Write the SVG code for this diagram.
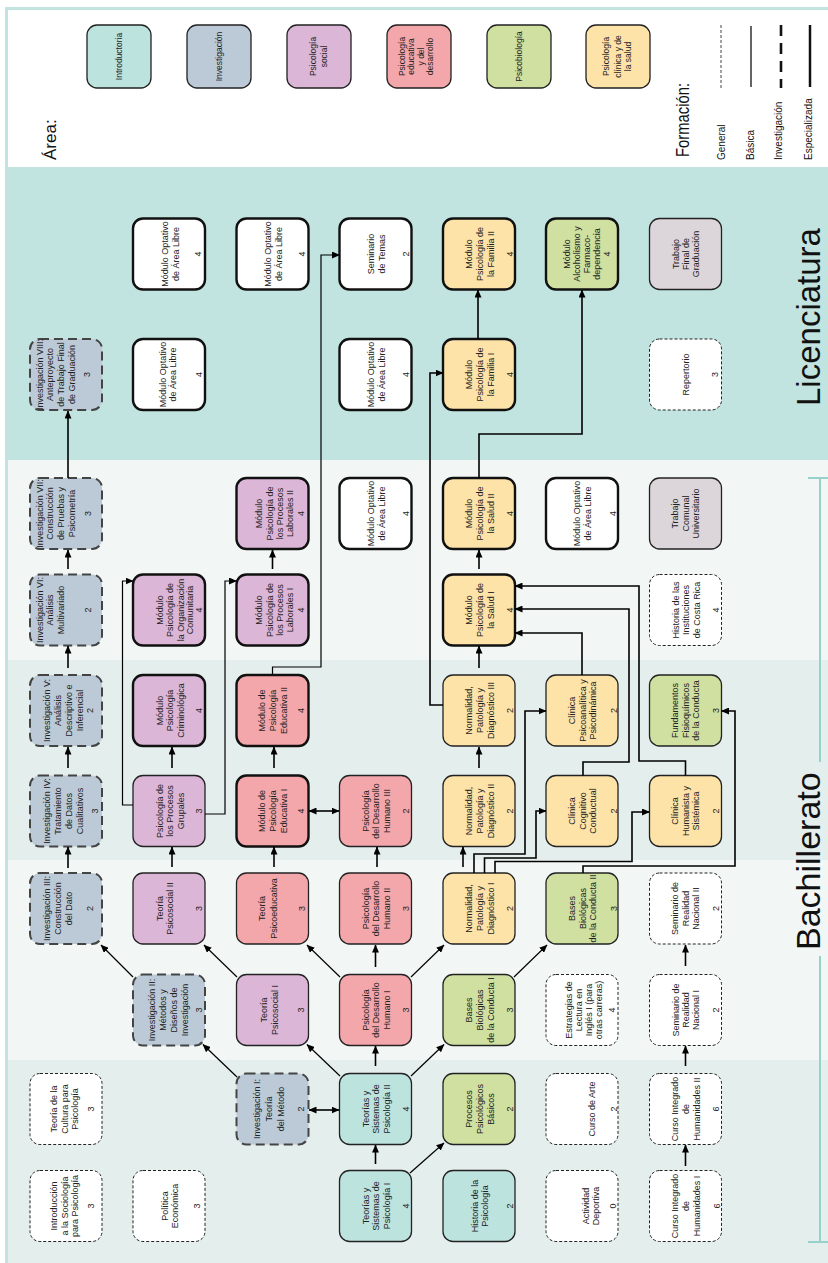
<svg xmlns="http://www.w3.org/2000/svg" width="828" height="1263" viewBox="0 0 828 1263">
<defs>
<marker id="ah" viewBox="0 0 8 7" refX="7.5" refY="3.5" markerWidth="8" markerHeight="7" markerUnits="userSpaceOnUse" orient="auto-start-reverse"><path d="M0,0 L8,3.5 L0,7 z" fill="#000"/></marker>
<style>
.t{font-family:"Liberation Sans",Arial,sans-serif;font-size:9px;fill:#222;text-anchor:middle}
.lt{font-family:"Liberation Sans",Arial,sans-serif;font-size:8.5px;fill:#222;text-anchor:middle}
.lab{font-family:"Liberation Sans",Arial,sans-serif;fill:#111}
.box{stroke:#222;stroke-width:1.3}
.gen{stroke:#222;stroke-width:1;stroke-dasharray:3 2;fill:#fff}
.inv{stroke:#444;stroke-width:2;stroke-dasharray:9 5;fill:#bccad8}
.esp{stroke:#111;stroke-width:2.4}
.fi{fill:#bde3df}.fs{fill:#dbb6d7}.fe{fill:#f4a7ab}.fb{fill:#cfe0a0}.fc{fill:#fde3a8}.fg{fill:#dcd5da}.fw{fill:#fff}
.c{fill:none;stroke:#000;stroke-width:1.6}
.cd{fill:none;stroke:#000;stroke-width:1.2}
</style>
</defs>
<g id="background">
<rect x="0" y="0" width="828" height="1263" fill="#fff"/>
<rect x="8" y="10" width="820" height="157" fill="#fff"/>
<rect x="8" y="167" width="820" height="293" fill="#c1e4e0"/>
<rect x="8" y="460" width="820" height="200" fill="#f2f7f6"/>
<rect x="8" y="660" width="820" height="200" fill="#e4eeec"/>
<rect x="8" y="860" width="820" height="200" fill="#f2f7f6"/>
<rect x="8" y="1060" width="820" height="203" fill="#e4eeec"/>
<rect x="5" y="7" width="823" height="3" fill="#c1e4e0"/>
<rect x="5" y="7" width="3" height="1256" fill="#c1e4e0"/>
<path d="M820,478 V762 M820,956 V1242 M808,478 H828 M808,1242 H828" fill="none" stroke="#96d1ca" stroke-width="2"/>
<text class="lab" font-size="33" transform="translate(820,406) rotate(-90)">Licenciatura</text>
<text class="lab" font-size="34" transform="translate(820,950) rotate(-90)">Bachillerato</text>
</g>
<g id="legend">
<text class="lab" font-size="17" transform="translate(50,160) rotate(-90)" y="6">Área:</text>
<g id="leg-intro"><rect x="87" y="25" width="64" height="63" rx="10" class="box fi"/><text class="lt" transform="translate(119,56.5) rotate(-90)"><tspan x="0" y="3">Introductoria</tspan></text></g>
<g id="leg-inv"><rect x="187" y="25" width="64" height="63" rx="10" class="box" fill="#bccad8"/><text class="lt" transform="translate(219,56.5) rotate(-90)"><tspan x="0" y="3">Investigación</tspan></text></g>
<g id="leg-soc"><rect x="287" y="25" width="64" height="63" rx="10" class="box fs"/><text class="lt" transform="translate(319,56.5) rotate(-90)"><tspan x="0" y="-3.3">Psicología</tspan><tspan x="0" y="7.7">social</tspan></text></g>
<g id="leg-edu"><rect x="387" y="25" width="64" height="63" rx="10" class="box fe"/><text class="lt" transform="translate(419,56.5) rotate(-90)"><tspan x="0" y="-14">Psicología</tspan><tspan x="0" y="-5">educativa</tspan><tspan x="0" y="5">y del</tspan><tspan x="0" y="14">desarrollo</tspan></text></g>
<g id="leg-bio"><rect x="487" y="25" width="64" height="63" rx="10" class="box fb"/><text class="lt" transform="translate(519,56.5) rotate(-90)"><tspan x="0" y="3">Psicobiología</tspan></text></g>
<g id="leg-clin"><rect x="586" y="25" width="64" height="63" rx="10" class="box fc"/><text class="lt" transform="translate(618,56.5) rotate(-90)"><tspan x="0" y="-8.7">Psicología</tspan><tspan x="0" y="2.7">clínica y de</tspan><tspan x="0" y="13">la salud</tspan></text></g>
<text class="lab" font-size="19" textLength="74" lengthAdjust="spacingAndGlyphs" transform="translate(682,157) rotate(-90)" y="7">Formación:</text>
<text class="lab" font-size="10" transform="translate(721,160) rotate(-90)" y="3.5">General</text>
<text class="lab" font-size="10" transform="translate(750,160) rotate(-90)" y="3.5">Básica</text>
<text class="lab" font-size="10" transform="translate(778,160) rotate(-90)" y="3.5">Investigación</text>
<text class="lab" font-size="10" transform="translate(808,160) rotate(-90)" y="3.5">Especializada</text>
<path d="M721,25 V88" stroke="#444" stroke-width="1" stroke-dasharray="3 2"/>
<path d="M751,26 V87" stroke="#111" stroke-width="1.3"/>
<path d="M781,25 V88" stroke="#111" stroke-width="2.6" stroke-dasharray="11 7"/>
<path d="M810,25 V87" stroke="#111" stroke-width="2.5"/>
</g>
<g id="nodes">
<g id="n01"><rect x="30" y="1170.5" width="72" height="71" rx="10" class="gen"/><text class="t" transform="translate(66,1206) rotate(-90)"><tspan x="0" y="-9.5">Introducción</tspan><tspan x="0" y="1.5">a la Sociología</tspan><tspan x="0" y="12.2">para Psicología</tspan><tspan x="0" y="27.9">3</tspan></text></g>
<g id="n02"><rect x="133" y="1170.5" width="72" height="71" rx="10" class="gen"/><text class="t" transform="translate(169,1206) rotate(-90)"><tspan x="0" y="-1.3">Política</tspan><tspan x="0" y="8.7">Económica</tspan><tspan x="0" y="31.2">3</tspan></text></g>
<g id="n03"><rect x="339.5" y="1170.5" width="72" height="71" rx="10" class="box fi"/><text class="t" transform="translate(375.5,1206) rotate(-90)"><tspan x="0" y="-7">Teorías y</tspan><tspan x="0" y="3.7">Sistemas de</tspan><tspan x="0" y="14.7">Psicología I</tspan><tspan x="0" y="33">4</tspan></text></g>
<g id="n04"><rect x="443" y="1170.5" width="72" height="71" rx="10" class="box fi"/><text class="t" transform="translate(479,1206) rotate(-90)"><tspan x="0" y="-1.5">Historia de la</tspan><tspan x="0" y="8.5">Psicología</tspan><tspan x="0" y="33.5">2</tspan></text></g>
<g id="n05"><rect x="546" y="1170.5" width="72" height="71" rx="10" class="gen"/><text class="t" transform="translate(582,1206) rotate(-90)"><tspan x="0" y="6.5">Actividad</tspan><tspan x="0" y="16.5">Deportiva</tspan><tspan x="0" y="34.2">0</tspan></text></g>
<g id="n06"><rect x="649.5" y="1170.5" width="72" height="71" rx="10" class="gen"/><text class="t" transform="translate(685.5,1206) rotate(-90)"><tspan x="0" y="-7.6">Curso Integrado</tspan><tspan x="0" y="3.7">de</tspan><tspan x="0" y="14.7">Humanidades I</tspan><tspan x="0" y="34.7">6</tspan></text></g>
<g id="n07"><rect x="30" y="1073.5" width="72" height="71" rx="10" class="gen"/><text class="t" transform="translate(66,1109) rotate(-90)"><tspan x="0" y="-9.5">Teoría de la</tspan><tspan x="0" y="1.5">Cultura para</tspan><tspan x="0" y="12.2">Psicología</tspan><tspan x="0" y="27.9">3</tspan></text></g>
<g id="n08"><rect x="236.5" y="1073.5" width="72" height="71" rx="10" class="inv"/><text class="t" transform="translate(272.5,1109) rotate(-90)"><tspan x="0" y="-12.3">Investigación I:</tspan><tspan x="0" y="-0.6">Teoría</tspan><tspan x="0" y="11.2">del Método</tspan><tspan x="0" y="31.7">2</tspan></text></g>
<g id="n09"><rect x="339.5" y="1073.5" width="72" height="71" rx="10" class="box fi"/><text class="t" transform="translate(375.5,1109) rotate(-90)"><tspan x="0" y="-7">Teorías y</tspan><tspan x="0" y="3.7">Sistemas de</tspan><tspan x="0" y="14.7">Psicología II</tspan><tspan x="0" y="33">4</tspan></text></g>
<g id="n10"><rect x="443" y="1073.5" width="72" height="71" rx="10" class="box fb"/><text class="t" transform="translate(479,1109) rotate(-90)"><tspan x="0" y="-7.1">Procesos</tspan><tspan x="0" y="4.2">Psicológicos</tspan><tspan x="0" y="15.2">Básicos</tspan><tspan x="0" y="33.5">2</tspan></text></g>
<g id="n11"><rect x="546" y="1073.5" width="72" height="71" rx="10" class="gen"/><text class="t" transform="translate(582,1109) rotate(-90)"><tspan x="0" y="13.2">Curso de Arte</tspan><tspan x="0" y="34.9">2</tspan></text></g>
<g id="n12"><rect x="649.5" y="1073.5" width="72" height="71" rx="10" class="gen"/><text class="t" transform="translate(685.5,1109) rotate(-90)"><tspan x="0" y="-7.6">Curso Integrado</tspan><tspan x="0" y="3.7">de</tspan><tspan x="0" y="14.7">Humanidades II</tspan><tspan x="0" y="33.7">6</tspan></text></g>
<g id="n13"><rect x="133" y="974.5" width="72" height="71" rx="10" class="inv"/><text class="t" transform="translate(169,1010) rotate(-90)"><tspan x="0" y="-14.1">Investigación II:</tspan><tspan x="0" y="-3.5">Métodos y</tspan><tspan x="0" y="7.5">Diseños de</tspan><tspan x="0" y="18.5">Investigación</tspan><tspan x="0" y="32.5">3</tspan></text></g>
<g id="n14"><rect x="236.5" y="974.5" width="72" height="71" rx="10" class="box fs"/><text class="t" transform="translate(272.5,1010) rotate(-90)"><tspan x="0" y="-6">Teoría</tspan><tspan x="0" y="5.7">Psicosocial I</tspan><tspan x="0" y="31.7">3</tspan></text></g>
<g id="n15"><rect x="339.5" y="974.5" width="72" height="71" rx="10" class="box fe"/><text class="t" transform="translate(375.5,1010) rotate(-90)"><tspan x="0" y="-7">Psicología</tspan><tspan x="0" y="3.7">del Desarrollo</tspan><tspan x="0" y="14.7">Humano I</tspan><tspan x="0" y="33.7">3</tspan></text></g>
<g id="n16"><rect x="443" y="974.5" width="72" height="71" rx="10" class="box fb"/><text class="t" transform="translate(479,1010) rotate(-90)"><tspan x="0" y="-7.1">Bases</tspan><tspan x="0" y="4.2">Biológicas</tspan><tspan x="0" y="15.2">de la Conducta I</tspan><tspan x="0" y="33.5">3</tspan></text></g>
<g id="n17"><rect x="546" y="974.5" width="72" height="71" rx="10" class="gen"/><text class="t" transform="translate(582,1010) rotate(-90)"><tspan x="0" y="-10.1">Estrategias de</tspan><tspan x="0" y="-0.1">Lectura en</tspan><tspan x="0" y="9.9">Inglés I (para</tspan><tspan x="0" y="19.9">otras carreras)</tspan><tspan x="0" y="33.2">4</tspan></text></g>
<g id="n18"><rect x="649.5" y="974.5" width="72" height="71" rx="10" class="gen"/><text class="t" transform="translate(685.5,1010) rotate(-90)"><tspan x="0" y="-6.8">Seminario de</tspan><tspan x="0" y="3.2">Realidad</tspan><tspan x="0" y="13.2">Nacional I</tspan><tspan x="0" y="33.7">2</tspan></text></g>
<g id="n19"><rect x="30" y="873" width="72" height="71" rx="10" class="inv"/><text class="t" transform="translate(66,908.5) rotate(-90)"><tspan x="0" y="-16.1">Investigación III:</tspan><tspan x="0" y="-5.5">Construcción</tspan><tspan x="0" y="5.5">del Dato</tspan><tspan x="0" y="26.5">2</tspan></text></g>
<g id="n20"><rect x="133" y="873" width="72" height="71" rx="10" class="box fs"/><text class="t" transform="translate(169,908.5) rotate(-90)"><tspan x="0" y="-6.5">Teoría</tspan><tspan x="0" y="4.2">Psicosocial II</tspan><tspan x="0" y="32.5">3</tspan></text></g>
<g id="n21"><rect x="236.5" y="873" width="72" height="71" rx="10" class="box fe"/><text class="t" transform="translate(272.5,908.5) rotate(-90)"><tspan x="0" y="-7.6">Teoría</tspan><tspan x="0" y="4">Psicoeducativa</tspan><tspan x="0" y="32.7">3</tspan></text></g>
<g id="n22"><rect x="339.5" y="873" width="72" height="71" rx="10" class="box fe"/><text class="t" transform="translate(375.5,908.5) rotate(-90)"><tspan x="0" y="-7">Psicología</tspan><tspan x="0" y="3.7">del Desarrollo</tspan><tspan x="0" y="14.7">Humano II</tspan><tspan x="0" y="33.7">3</tspan></text></g>
<g id="n23"><rect x="443" y="873" width="72" height="71" rx="10" class="box fc"/><text class="t" transform="translate(479,908.5) rotate(-90)"><tspan x="0" y="-7.1">Normalidad,</tspan><tspan x="0" y="4.2">Patología y</tspan><tspan x="0" y="15.2">Diagnóstico I</tspan><tspan x="0" y="33.5">2</tspan></text></g>
<g id="n24"><rect x="546" y="873" width="72" height="71" rx="10" class="box fb"/><text class="t" transform="translate(582,908.5) rotate(-90)"><tspan x="0" y="-6.8">Bases</tspan><tspan x="0" y="3.9">Biológicas</tspan><tspan x="0" y="13.9">de la Conducta II</tspan><tspan x="0" y="34.9">3</tspan></text></g>
<g id="n25"><rect x="649.5" y="873" width="72" height="71" rx="10" class="gen"/><text class="t" transform="translate(685.5,908.5) rotate(-90)"><tspan x="0" y="-7.6">Seminario de</tspan><tspan x="0" y="3">Realidad</tspan><tspan x="0" y="13.7">Nacional II</tspan><tspan x="0" y="33.7">2</tspan></text></g>
<g id="n26"><rect x="30" y="775.5" width="72" height="71" rx="10" class="inv"/><text class="t" transform="translate(66,811) rotate(-90)"><tspan x="0" y="-16.1">Investigación IV:</tspan><tspan x="0" y="-5.5">Tratamiento</tspan><tspan x="0" y="5.5">de Datos</tspan><tspan x="0" y="17.2">Cualitativos</tspan><tspan x="0" y="32.2">3</tspan></text></g>
<g id="n27"><rect x="133" y="775.5" width="72" height="71" rx="10" class="box fs"/><text class="t" transform="translate(169,811) rotate(-90)"><tspan x="0" y="-6.5">Psicología de</tspan><tspan x="0" y="4.2">los Procesos</tspan><tspan x="0" y="15.2">Grupales</tspan><tspan x="0" y="32.5">3</tspan></text></g>
<g id="n28"><rect x="236.5" y="775.5" width="72" height="71" rx="10" class="esp fe"/><text class="t" transform="translate(272.5,811) rotate(-90)"><tspan x="0" y="-7.3">Módulo de</tspan><tspan x="0" y="3.7">Psicología</tspan><tspan x="0" y="14.2">Educativa I</tspan><tspan x="0" y="31.7">4</tspan></text></g>
<g id="n29"><rect x="339.5" y="775.5" width="72" height="71" rx="10" class="box fe"/><text class="t" transform="translate(375.5,811) rotate(-90)"><tspan x="0" y="-7">Psicología</tspan><tspan x="0" y="3.7">del Desarrollo</tspan><tspan x="0" y="14.7">Humano III</tspan><tspan x="0" y="33.7">2</tspan></text></g>
<g id="n30"><rect x="443" y="775.5" width="72" height="71" rx="10" class="box fc"/><text class="t" transform="translate(479,811) rotate(-90)"><tspan x="0" y="-7.1">Normalidad,</tspan><tspan x="0" y="4.2">Patología y</tspan><tspan x="0" y="15.2">Diagnóstico II</tspan><tspan x="0" y="33.5">2</tspan></text></g>
<g id="n31"><rect x="546" y="775.5" width="72" height="71" rx="10" class="box fc"/><text class="t" transform="translate(582,811) rotate(-90)"><tspan x="0" y="-6.8">Clínica</tspan><tspan x="0" y="3.9">Cognitivo</tspan><tspan x="0" y="13.9">Conductual</tspan><tspan x="0" y="34.9">2</tspan></text></g>
<g id="n32"><rect x="649.5" y="775.5" width="72" height="71" rx="10" class="box fc"/><text class="t" transform="translate(685.5,811) rotate(-90)"><tspan x="0" y="-7.6">Clínica</tspan><tspan x="0" y="3">Humanista y</tspan><tspan x="0" y="13.7">Sistémica</tspan><tspan x="0" y="33">2</tspan></text></g>
<g id="n33"><rect x="30" y="675" width="72" height="71" rx="10" class="inv"/><text class="t" transform="translate(66,710.5) rotate(-90)"><tspan x="0" y="-16.1">Investigación V:</tspan><tspan x="0" y="-5.5">Análisis</tspan><tspan x="0" y="5.5">Descriptivo e</tspan><tspan x="0" y="17.2">Inferencial</tspan><tspan x="0" y="26.5">2</tspan></text></g>
<g id="n34"><rect x="133" y="675" width="72" height="71" rx="10" class="esp fs"/><text class="t" transform="translate(169,710.5) rotate(-90)"><tspan x="0" y="-6.5">Módulo</tspan><tspan x="0" y="4.2">Psicología</tspan><tspan x="0" y="15.2">Criminológica</tspan><tspan x="0" y="32.5">4</tspan></text></g>
<g id="n35"><rect x="236.5" y="675" width="72" height="71" rx="10" class="esp fe"/><text class="t" transform="translate(272.5,710.5) rotate(-90)"><tspan x="0" y="-7.3">Módulo de</tspan><tspan x="0" y="3.7">Psicología</tspan><tspan x="0" y="14.2">Educativa II</tspan><tspan x="0" y="31.7">4</tspan></text></g>
<g id="n36"><rect x="443" y="675" width="72" height="71" rx="10" class="box fc"/><text class="t" transform="translate(479,710.5) rotate(-90)"><tspan x="0" y="-7.1">Normalidad,</tspan><tspan x="0" y="4.2">Patología y</tspan><tspan x="0" y="15.2">Diagnóstico III</tspan><tspan x="0" y="33.5">2</tspan></text></g>
<g id="n37"><rect x="546" y="675" width="72" height="71" rx="10" class="box fc"/><text class="t" transform="translate(582,710.5) rotate(-90)"><tspan x="0" y="-6.8">Clínica</tspan><tspan x="0" y="3.9">Psicoanalítica y</tspan><tspan x="0" y="13.9">Psicodinámica</tspan><tspan x="0" y="34.9">2</tspan></text></g>
<g id="n38"><rect x="649.5" y="675" width="72" height="71" rx="10" class="box fb"/><text class="t" transform="translate(685.5,710.5) rotate(-90)"><tspan x="0" y="-7.6">Fundamentos</tspan><tspan x="0" y="3">Fisioquímicos</tspan><tspan x="0" y="13.7">de la Conducta</tspan><tspan x="0" y="33">3</tspan></text></g>
<g id="n39"><rect x="30" y="574.5" width="72" height="71" rx="10" class="inv"/><text class="t" transform="translate(66,610) rotate(-90)"><tspan x="0" y="-23.5">Investigación VI:</tspan><tspan x="0" y="-12.8">Análisis</tspan><tspan x="0" y="-1.8">Multivariado</tspan><tspan x="0" y="24.5">2</tspan></text></g>
<g id="n40"><rect x="133" y="574.5" width="72" height="71" rx="10" class="esp fs"/><text class="t" transform="translate(169,610) rotate(-90)"><tspan x="0" y="-6.3">Módulo</tspan><tspan x="0" y="4.2">Psicología de</tspan><tspan x="0" y="14.7">la Organización</tspan><tspan x="0" y="24.2">Comunitaria</tspan><tspan x="0" y="33.2">4</tspan></text></g>
<g id="n41"><rect x="236.5" y="574.5" width="72" height="71" rx="10" class="esp fs"/><text class="t" transform="translate(272.5,610) rotate(-90)"><tspan x="0" y="-11">Módulo</tspan><tspan x="0" y="0">Psicología de</tspan><tspan x="0" y="10">los Procesos</tspan><tspan x="0" y="20">Laborales I</tspan><tspan x="0" y="31.7">4</tspan></text></g>
<g id="n42"><rect x="443" y="574.5" width="72" height="71" rx="10" class="esp fc"/><text class="t" transform="translate(479,610) rotate(-90)"><tspan x="0" y="-7.1">Módulo</tspan><tspan x="0" y="4.2">Psicología de</tspan><tspan x="0" y="15.2">la Salud I</tspan><tspan x="0" y="33.5">4</tspan></text></g>
<g id="n43"><rect x="649.5" y="574.5" width="72" height="71" rx="10" class="gen"/><text class="t" transform="translate(685.5,610) rotate(-90)"><tspan x="0" y="-6.8">Historia de las</tspan><tspan x="0" y="3.7">Instituciones</tspan><tspan x="0" y="14.7">de Costa Rica</tspan><tspan x="0" y="33.2">4</tspan></text></g>
<g id="n44"><rect x="30" y="478" width="72" height="71" rx="10" class="inv"/><text class="t" transform="translate(66,513.5) rotate(-90)"><tspan x="0" y="-23.5">Investigación VII:</tspan><tspan x="0" y="-12.8">Construcción</tspan><tspan x="0" y="-1.8">de Pruebas y</tspan><tspan x="0" y="8.9">Psicometría</tspan><tspan x="0" y="24.5">3</tspan></text></g>
<g id="n45"><rect x="236.5" y="478" width="72" height="71" rx="10" class="esp fs"/><text class="t" transform="translate(272.5,513.5) rotate(-90)"><tspan x="0" y="-11">Módulo</tspan><tspan x="0" y="0">Psicología de</tspan><tspan x="0" y="10">los Procesos</tspan><tspan x="0" y="20">Laborales II</tspan><tspan x="0" y="31.7">4</tspan></text></g>
<g id="n46"><rect x="339.5" y="478" width="72" height="71" rx="10" class="esp fw"/><text class="t" transform="translate(375.5,513.5) rotate(-90)"><tspan x="0" y="-1.3">Módulo Optativo</tspan><tspan x="0" y="9.7">de Área Libre</tspan><tspan x="0" y="33.7">4</tspan></text></g>
<g id="n47"><rect x="443" y="478" width="72" height="71" rx="10" class="esp fc"/><text class="t" transform="translate(479,513.5) rotate(-90)"><tspan x="0" y="-7.1">Módulo</tspan><tspan x="0" y="4.2">Psicología de</tspan><tspan x="0" y="15.2">la Salud II</tspan><tspan x="0" y="33.5">4</tspan></text></g>
<g id="n48"><rect x="546" y="478" width="72" height="71" rx="10" class="esp fw"/><text class="t" transform="translate(582,513.5) rotate(-90)"><tspan x="0" y="-1.8">Módulo Optativo</tspan><tspan x="0" y="9.2">de Área Libre</tspan><tspan x="0" y="34.2">4</tspan></text></g>
<g id="n49"><rect x="649.5" y="478" width="72" height="71" rx="10" class="box fg"/><text class="t" transform="translate(685.5,513.5) rotate(-90)"><tspan x="0" y="-7.8">Trabajo</tspan><tspan x="0" y="3.2">Comunal</tspan><tspan x="0" y="13.7">Universitario</tspan></text></g>
<g id="n50"><rect x="30" y="339" width="72" height="71" rx="10" class="inv"/><text class="t" transform="translate(66,374.5) rotate(-90)"><tspan x="0" y="-23.5">Investigación VIII:</tspan><tspan x="0" y="-12.8">Anteproyecto</tspan><tspan x="0" y="-1.8">de Trabajo Final</tspan><tspan x="0" y="8.9">de Graduación</tspan><tspan x="0" y="23.9">3</tspan></text></g>
<g id="n51"><rect x="133" y="339" width="72" height="71" rx="10" class="esp fw"/><text class="t" transform="translate(169,374.5) rotate(-90)"><tspan x="0" y="-3.5">Módulo Optativo</tspan><tspan x="0" y="6.9">de Área Libre</tspan><tspan x="0" y="32.5">4</tspan></text></g>
<g id="n52"><rect x="339.5" y="339" width="72" height="71" rx="10" class="esp fw"/><text class="t" transform="translate(375.5,374.5) rotate(-90)"><tspan x="0" y="-1.3">Módulo Optativo</tspan><tspan x="0" y="9.7">de Área Libre</tspan><tspan x="0" y="33.7">4</tspan></text></g>
<g id="n53"><rect x="443" y="339" width="72" height="71" rx="10" class="esp fc"/><text class="t" transform="translate(479,374.5) rotate(-90)"><tspan x="0" y="-7.1">Módulo</tspan><tspan x="0" y="4.2">Psicología de</tspan><tspan x="0" y="15.2">la Familia I</tspan><tspan x="0" y="33.5">4</tspan></text></g>
<g id="n54"><rect x="649.5" y="339" width="72" height="71" rx="10" class="gen"/><text class="t" transform="translate(685.5,374.5) rotate(-90)"><tspan x="0" y="3.2">Repertorio</tspan><tspan x="0" y="32.7">3</tspan></text></g>
<g id="n55"><rect x="133" y="218.5" width="72" height="71" rx="10" class="esp fw"/><text class="t" transform="translate(169,254) rotate(-90)"><tspan x="0" y="-0.8">Módulo Optativo</tspan><tspan x="0" y="10.2">de Área Libre</tspan><tspan x="0" y="31.5">4</tspan></text></g>
<g id="n56"><rect x="236.5" y="218.5" width="72" height="71" rx="10" class="esp fw"/><text class="t" transform="translate(272.5,254) rotate(-90)"><tspan x="0" y="-1.8">Módulo Optativo</tspan><tspan x="0" y="9.2">de Área Libre</tspan><tspan x="0" y="32.2">4</tspan></text></g>
<g id="n57"><rect x="339.5" y="218.5" width="72" height="71" rx="10" class="esp fw"/><text class="t" transform="translate(375.5,254) rotate(-90)"><tspan x="0" y="-2">Seminario</tspan><tspan x="0" y="9.7">de Temas</tspan><tspan x="0" y="33.7">2</tspan></text></g>
<g id="n58"><rect x="443" y="218.5" width="72" height="71" rx="10" class="esp fc"/><text class="t" transform="translate(479,254) rotate(-90)"><tspan x="0" y="-7.1">Módulo</tspan><tspan x="0" y="4.2">Psicología de</tspan><tspan x="0" y="15.2">la Familia II</tspan><tspan x="0" y="33.5">4</tspan></text></g>
<g id="n59"><rect x="546" y="218.5" width="72" height="71" rx="10" class="esp fb"/><text class="t" transform="translate(582,254) rotate(-90)"><tspan x="0" y="-11.8">Módulo</tspan><tspan x="0" y="-1.8">Alcoholismo y</tspan><tspan x="0" y="8.2">Farmaco-</tspan><tspan x="0" y="18.2">dependencia</tspan><tspan x="0" y="28.2">4</tspan></text></g>
<g id="n60"><rect x="649.5" y="218.5" width="72" height="71" rx="10" class="box fg"/><text class="t" transform="translate(685.5,254) rotate(-90)"><tspan x="0" y="-6.8">Trabajo</tspan><tspan x="0" y="3.2">Final de</tspan><tspan x="0" y="13.2">Graduación</tspan></text></g>
</g>
<g id="connectors">
<path class="c" marker-end="url(#ah)" d="M375.5,1164 V1145"/>
<path class="c" marker-end="url(#ah)" d="M375.5,1066 V1046"/>
<path class="c" marker-end="url(#ah)" d="M375.5,967 V945"/>
<path class="c" marker-end="url(#ah)" d="M377,867 V847"/>
<path class="c" marker-end="url(#ah)" d="M685.5,1166 V1145"/>
<path class="c" marker-end="url(#ah)" d="M685.5,1066 V1046"/>
<path class="c" marker-end="url(#ah)" d="M685.5,966 V945"/>
<path class="c" marker-end="url(#ah)" d="M68,868 V847"/>
<path class="c" marker-end="url(#ah)" d="M68,768 V747"/>
<path class="c" marker-end="url(#ah)" d="M68,668 V646"/>
<path class="c" marker-end="url(#ah)" d="M68,569 V550"/>
<path class="c" marker-end="url(#ah)" d="M68,478 V411"/>
<path class="c" marker-end="url(#ah)" d="M172,867 V847"/>
<path class="c" marker-end="url(#ah)" d="M172,768 V747"/>
<path class="c" marker-end="url(#ah)" d="M274,867 V847"/>
<path class="c" marker-end="url(#ah)" d="M274,768 V747"/>
<path class="c" marker-end="url(#ah)" d="M272.5,569 V550"/>
<path class="c" marker-end="url(#ah)" d="M463,867 V847"/>
<path class="c" marker-end="url(#ah)" d="M479,768 V747"/>
<path class="c" marker-end="url(#ah)" d="M479,668 V646"/>
<path class="c" marker-end="url(#ah)" d="M479,569 V550"/>
<path class="c" marker-end="url(#ah)" d="M478,339 V290"/>
<path class="c" marker-start="url(#ah)" marker-end="url(#ah)" d="M309,1110 H339"/>
<path class="c" marker-start="url(#ah)" marker-end="url(#ah)" d="M309,811 H339"/>
<path class="cd" marker-end="url(#ah)" d="M410,1173 L444,1143"/>
<path class="cd" marker-end="url(#ah)" d="M340,1076 L307,1044.5"/>
<path class="cd" marker-end="url(#ah)" d="M411,1076 L444,1044.5"/>
<path class="cd" marker-end="url(#ah)" d="M237,1077 L203,1044.5"/>
<path class="cd" marker-end="url(#ah)" d="M133,977 L101,945"/>
<path class="cd" marker-end="url(#ah)" d="M237,977 L204,945"/>
<path class="cd" marker-end="url(#ah)" d="M340,977 L307,945"/>
<path class="cd" marker-end="url(#ah)" d="M411,977 L444,945"/>
<path class="cd" marker-end="url(#ah)" d="M514,977 L547,945"/>
<path class="cd" marker-end="url(#ah)" d="M133,805 H122.5 V581 H133"/>
<path class="cd" marker-end="url(#ah)" d="M205,814 H225 V581 H236.5"/>
<path class="cd" marker-end="url(#ah)" d="M272.5,675 V667 H321 V255 H339.5"/>
<path class="c" marker-end="url(#ah)" d="M443,705 H430 V373 H443"/>
<path class="c" marker-end="url(#ah)" d="M474,873 V854 H525 V711 H546"/>
<path class="c" marker-end="url(#ah)" d="M484.5,873 V858 H536 V811 H546"/>
<path class="c" marker-end="url(#ah)" d="M495,873 V861.5 H632 V812 H649.5"/>
<path class="c" marker-end="url(#ah)" d="M583,873 V866 H735 V711 H721.5"/>
<path class="c" marker-end="url(#ah)" d="M583,775.5 V762 H629 V609 H515"/>
<path class="c" marker-end="url(#ah)" d="M685.5,775.5 V761 H639 V586 H515"/>
<path class="c" marker-end="url(#ah)" d="M582,675 V633 H515"/>
<path class="c" marker-end="url(#ah)" d="M479,478 V434 H582 V290"/>
</g>
</svg>
